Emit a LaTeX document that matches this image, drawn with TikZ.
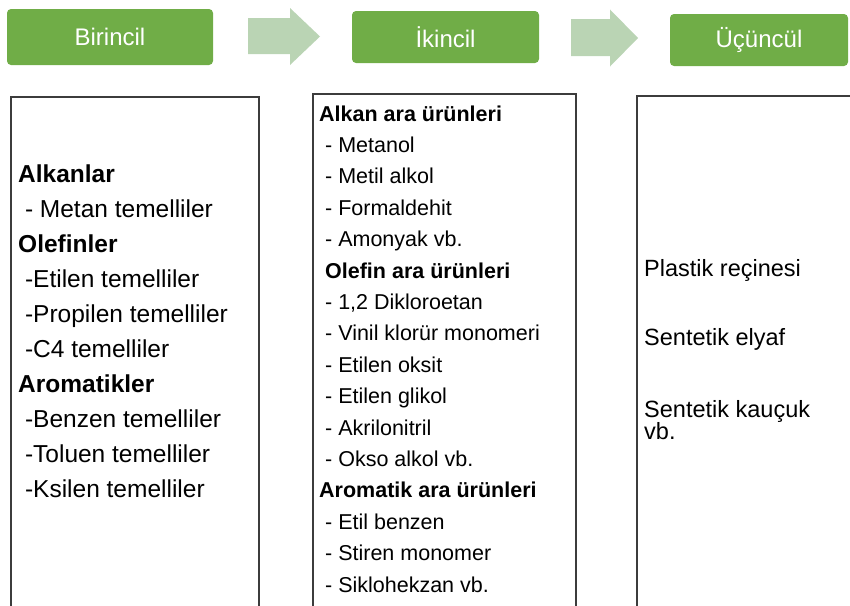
\documentclass[tikz,border=0pt]{standalone}
\usepackage{fontspec}
\setmainfont{Liberation Sans}
\definecolor{headgreen}{RGB}{112,173,71}
\definecolor{flowgreen}{RGB}{186,212,180}
\definecolor{framegray}{RGB}{60,60,60}
\tikzset{
  head/.style={fill=headgreen, rounded corners=4pt, text=white, inner sep=0pt,
    font=\fontsize{24}{28}\selectfont},
  flow/.style={fill=flowgreen},
  panel/.style={draw=framegray, line width=1.5pt},
  leftitem/.style={anchor=base west, inner sep=0pt, font=\fontsize{24.5}{28}\selectfont},
  miditem/.style={anchor=base west, inner sep=0pt, font=\fontsize{21.5}{24}\selectfont},
  rightitem/.style={anchor=base west, inner sep=0pt, font=\fontsize{23.5}{26}\selectfont}
}

\begin{document}
\begin{tikzpicture}[x=1pt, y=-1pt]
\useasboundingbox (0,0) rectangle (850,605);
\clip (0,0) rectangle (850,605);

% headers
\node[head, minimum width=206pt, minimum height=56pt] (prim) at (110,37) {Birincil};
\node[head, minimum width=187pt, minimum height=52pt] (sec) at (445.5,37) {İkincil};
\node[head, minimum width=178pt, minimum height=52pt] (tert) at (759,40) {Üçüncül};

% arrows between the headers
\fill[flow] (248,18) -- (290,18) -- (290,8) -- (320,36.5) -- (290,65) -- (290,54) -- (248,54) -- cycle;
\fill[flow] (571,19) -- (610,19) -- (610,9.5) -- (638,38) -- (610,66.5) -- (610,56) -- (571,56) -- cycle;

% boxes
\draw[panel] (11,620) -- (11,97) -- (259,97) -- (259,620);
\draw[panel] (313,620) -- (313,94) -- (576,94) -- (576,620);
\draw[panel] (637,620) -- (637,96) -- (870,96);

% primary
\node[leftitem] (a1) at (18,182) {\textbf{Alkanlar}};
\node[leftitem] (a2) at (18,217.1) {\ - Metan temelliler};
\node[leftitem] (a3) at (18,252.2) {\textbf{Olefinler}};
\node[leftitem] (a4) at (18,287.3) {\ -Etilen temelliler};
\node[leftitem] (a5) at (18,322.4) {\ -Propilen temelliler};
\node[leftitem] (a6) at (18,357.5) {\ -C4 temelliler};
\node[leftitem] (a7) at (18,392.6) {\textbf{Aromatikler}};
\node[leftitem] (a8) at (18,427.7) {\ -Benzen temelliler};
\node[leftitem] (a9) at (18,462.8) {\ -Toluen temelliler};
\node[leftitem] (a10) at (18,497.9) {\ -Ksilen temelliler};

% secondary
\node[miditem] (b1) at (319,121) {\textbf{Alkan ara ürünleri}};
\node[miditem] (b2) at (319,152.4) {\ - Metanol};
\node[miditem] (b3) at (319,183.8) {\ - Metil alkol};
\node[miditem] (b4) at (319,215.2) {\ - Formaldehit};
\node[miditem] (b5) at (319,246.6) {\ - Amonyak vb.};
\node[miditem] (b6) at (319,278) {\ \textbf{Olefin ara ürünleri}};
\node[miditem] (b7) at (319,309.4) {\ - 1,2 Dikloroetan};
\node[miditem] (b8) at (319,340.8) {\ - Vinil klorür monomeri};
\node[miditem] (b9) at (319,372.2) {\ - Etilen oksit};
\node[miditem] (b10) at (319,403.6) {\ - Etilen glikol};
\node[miditem] (b11) at (319,435) {\ - Akrilonitril};
\node[miditem] (b12) at (319,466.4) {\ - Okso alkol vb.};
\node[miditem] (b13) at (319,497.8) {\textbf{Aromatik ara ürünleri}};
\node[miditem] (b14) at (319,529.2) {\ - Etil benzen};
\node[miditem] (b15) at (319,560.6) {\ - Stiren monomer};
\node[miditem] (b16) at (319,592) {\ - Siklohekzan vb.};

% tertiary
\node[rightitem] (c1) at (644,276) {Plastik reçinesi};
\node[rightitem] (c2) at (644,345) {Sentetik elyaf};
\node[rightitem] (c3) at (644,417) {Sentetik kauçuk};
\node[rightitem] (c4) at (644,439) {vb.};
\end{tikzpicture}
\end{document}
